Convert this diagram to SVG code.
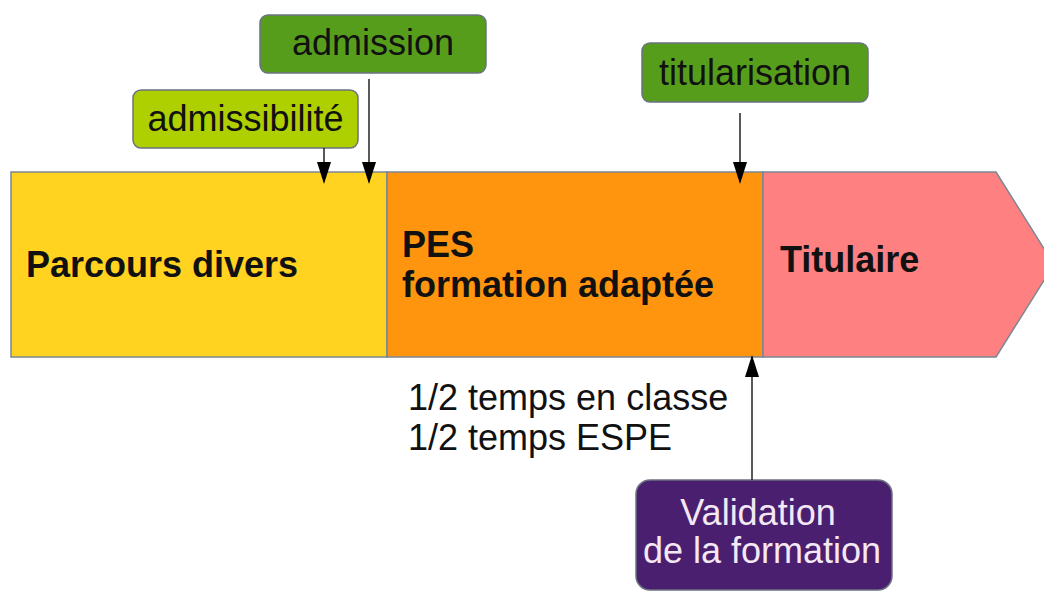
<svg xmlns="http://www.w3.org/2000/svg" width="1044" height="592" viewBox="0 0 1044 592">
<style>
.t{font-family:"Liberation Sans",Arial,sans-serif;font-size:36px;fill:#111}
.b{font-weight:bold}
.band{stroke:#7b8794;stroke-width:1.5}
.lbl{stroke:#6b7280;stroke-width:1.5}
.con{stroke:#222;stroke-width:1.5;fill:none}
</style>
<defs>
<marker id="ah" viewBox="0 0 22 14" refX="20" refY="7" markerWidth="22" markerHeight="14" markerUnits="userSpaceOnUse" orient="auto">
<path d="M0,0 L22,7 L0,14 Z" fill="#000"/>
</marker>
</defs>
<rect width="1044" height="592" fill="#fff"/>
<g id="parcours">
<rect class="band" x="11" y="172" width="376" height="185" fill="#ffd320"/>
<text class="t b" x="26" y="277">Parcours divers</text>
</g>
<g id="pes">
<rect class="band" x="387" y="172" width="376" height="185" fill="#ff950e"/>
<text class="t b" x="402" y="257">PES</text>
<text class="t b" x="402" y="297">formation adaptée</text>
</g>
<g id="titulaire">
<path class="band" d="M763,172 L996,172 L1054,264.5 L996,357 L763,357 Z" fill="#ff8080"/>
<text class="t b" x="780" y="272">Titulaire</text>
</g>
<g id="admissibilite">
<rect class="lbl" x="133" y="90" width="225" height="58" rx="8" fill="#aecf00"/>
<text class="t" x="245.5" y="131" text-anchor="middle">admissibilité</text>
</g>
<g id="admission">
<rect class="lbl" x="260" y="15" width="226" height="58" rx="8" fill="#579d1c"/>
<text class="t" x="373" y="55" text-anchor="middle">admission</text>
</g>
<g id="titularisation">
<rect class="lbl" x="642" y="43" width="226" height="59" rx="8" fill="#579d1c"/>
<text class="t" x="755" y="85" text-anchor="middle">titularisation</text>
</g>
<g id="temps">
<text class="t" x="408" y="410">1/2 temps en classe</text>
<text class="t" x="408" y="450">1/2 temps ESPE</text>
</g>
<g id="validation">
<rect class="lbl" x="636" y="480" width="256" height="110" rx="14" fill="#4b1f6f"/>
<text class="t" x="758" y="525" text-anchor="middle" style="fill:#f4e8f4">Validation</text>
<text class="t" x="762" y="563" text-anchor="middle" style="fill:#f4e8f4">de la formation</text>
</g>
<g id="connectors">
<line class="con" x1="324" y1="148" x2="324" y2="182" marker-end="url(#ah)"/>
<line class="con" x1="369" y1="79" x2="369" y2="182" marker-end="url(#ah)"/>
<line class="con" x1="740" y1="113" x2="740" y2="182" marker-end="url(#ah)"/>
<line class="con" x1="752" y1="480" x2="752" y2="357" marker-end="url(#ah)"/>
</g>
</svg>
